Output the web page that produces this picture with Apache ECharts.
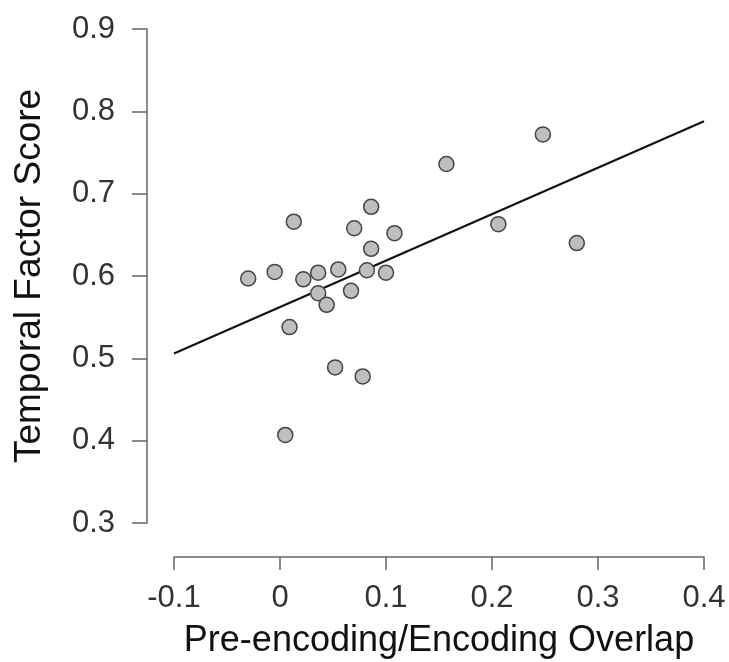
<!DOCTYPE html>
<html>
<head>
<meta charset="utf-8">
<script src="https://cdn.jsdelivr.net/npm/echarts@6/dist/echarts.min.js"></script>
<style>
  html, body { margin: 0; padding: 0; background: #fff; }
  #chart { width: 729px; height: 662px; }
</style>
</head>
<body>
<div id="chart"></div>
<script>
// values
var overlap = [-0.030, -0.005, 0.013, 0.022, 0.036, 0.055, 0.036, 0.044, 0.009, 0.005, 0.052, 0.078,
               0.067, 0.082, 0.100, 0.070, 0.086, 0.086, 0.108, 0.157, 0.206, 0.248, 0.280];
var temporal = [0.597, 0.605, 0.666, 0.596, 0.604, 0.608, 0.579, 0.565, 0.538, 0.407, 0.489, 0.478,
                0.582, 0.607, 0.604, 0.658, 0.684, 0.633, 0.652, 0.736, 0.663, 0.772, 0.640];
var fitX = [-0.1, 0.4];
var fitY = [0.506, 0.788];

var points = overlap.map(function (x, i) { return [x, temporal[i]]; });
var fit = fitX.map(function (x, i) { return [x, fitY[i]]; });

var myChart = echarts.init(document.getElementById('chart'));
var font = 'Liberation Sans, Arial, sans-serif';
var option = {
    animation: false,
    grid: { left: 174, right: 25, top: 29, bottom: 139, containLabel: false, outerBoundsMode: 'none' },
    xAxis: {
        type: 'value',
        min: -0.1, max: 0.4, interval: 0.1,
        offset: 34,
        name: 'Pre-encoding/Encoding Overlap',
        nameLocation: 'middle',
        nameGap: 66,
        nameTextStyle: { color: '#111', fontSize: 36, fontFamily: font },
        axisLine: { onZero: false, lineStyle: { color: '#666', width: 1.5 } },
        axisTick: { length: 13, lineStyle: { color: '#666', width: 1.5 } },
        axisLabel: { color: '#333', fontSize: 31, fontFamily: font, margin: 26 },
        splitLine: { show: false }
    },
    yAxis: {
        type: 'value',
        min: 0.3, max: 0.9, interval: 0.1,
        offset: 27,
        name: 'Temporal Factor Score',
        nameLocation: 'middle',
        nameGap: 99,
        nameTextStyle: { color: '#111', fontSize: 37, fontFamily: font },
        axisLine: { show: true, onZero: false, lineStyle: { color: '#666', width: 1.5 } },
        axisTick: { show: true, length: 15, lineStyle: { color: '#666', width: 1.5 } },
        axisLabel: { color: '#333', fontSize: 31, fontFamily: font, margin: 32 },
        splitLine: { show: false }
    },
    series: [
        {
            type: 'line',
            data: fit,
            symbol: 'none',
            lineStyle: { color: '#111', width: 2.2 },
            z: 1
        },
        {
            type: 'scatter',
            data: points,
            symbolSize: 15,
            itemStyle: { color: '#bebebe', borderColor: '#444', borderWidth: 1.5, opacity: 1 },
            z: 2
        }
    ]
};
myChart.setOption(option, true);
</script>
</body>
</html>
